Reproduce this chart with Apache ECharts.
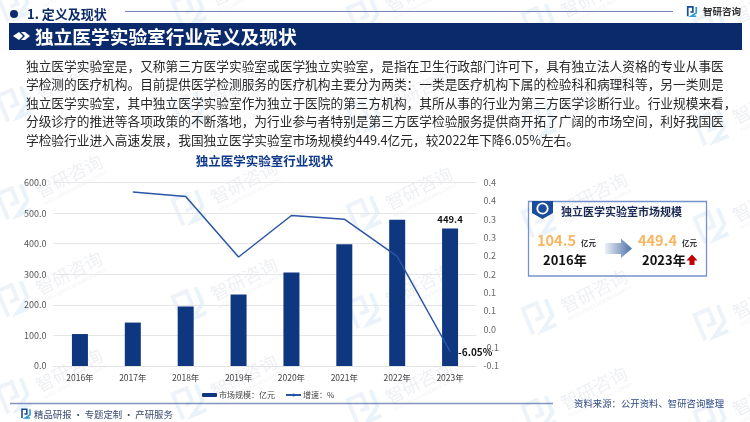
<!DOCTYPE html>
<html><head><meta charset="utf-8">
<style>html,body{margin:0;padding:0;background:#fff}#c{width:750px;height:422px}</style>
<script src="https://cdn.jsdelivr.net/npm/echarts@6/dist/echarts.min.js"></script>
</head><body><div id="c"></div>
<script>
var categories=['2016年','2017年','2018年','2019年','2020年','2021年','2022年','2023年'];
var marketSize=[104.5,142,194.5,234,305.5,398,478,449.4];
var growth=[null,0.374,0.362,0.197,0.310,0.300,0.199,-0.0605];
var rightTickLabels=['-0.1','-0.1','0.0','0.1','0.1','0.2','0.2','0.3','0.3','0.4','0.4'];
var seriesNames=['市场规模：亿元','增速：%'];
var paragraph=[
'独立医学实验室是，又称第三方医学实验室或医学独立实验室，是指在卫生行政部门许可下，具有独立法人资格的专业从事医',
'学检测的医疗机构。目前提供医学检测服务的医疗机构主要分为两类：一类是医疗机构下属的检验科和病理科等，另一类则是',
'独立医学实验室，其中独立医学实验室作为独立于医院的第三方机构，其所从事的行业为第三方医学诊断行业。行业规模来看，',
'分级诊疗的推进等各项政策的不断落地，为行业参与者特别是第三方医学检验服务提供商开拓了广阔的市场空间，利好我国医',
'学检验行业进入高速发展，我国独立医学实验室市场规模约449.4亿元，较2022年下降6.05%左右。'];
var FONT='"Noto Sans CJK SC","Noto Sans",sans-serif';
var NAVY='#0a2a6b',BAR='#0e3780',LINE='#2a55a5';
function T(x,y,t,size,color,bold,align,z){return {type:'text',z:z||5,style:{x:x,y:y,text:t,font:(bold?'bold ':'')+size+'px '+FONT,fill:color,textAlign:align||'left',textVerticalAlign:'middle'}};}
function logo(cx,cy,s,c1,c2,rot,lw,zl){
  var extra=zl?{zlevel:zl}:{z:5};
  return {type:'group',x:cx,y:cy,rotation:rot||0,scaleX:s,scaleY:s,children:[
    Object.assign({type:'polyline',shape:{points:[[-5,5],[-5,-6],[1,-6],[1,0],[-2,0]]},style:{fill:'none',stroke:c1,lineWidth:lw}},extra),
    Object.assign({type:'polyline',shape:{points:[[5,-6],[5,1],[-1,5],[5,5]]},style:{fill:'none',stroke:c2,lineWidth:lw}},extra)]};
}
var g=[];
// watermark, on a layer below the chart
var colX=[15,190,365,540,712],rowY=[5,105,203,300,397];
colX.forEach(function(x,i){rowY.forEach(function(y){
  var yy=y+i*6;
  g.push(logo(x,yy,2.5,'#edf3f8','#e9f3f9',0.4,1.6,-1));
  g.push({type:'text',zlevel:-1,x:x+54,y:yy-27,rotation:0.47,style:{x:0,y:0,text:'智研咨询',font:'18px '+FONT,fill:'#eff0f4',textAlign:'center',textVerticalAlign:'middle'}});
  g.push({type:'text',zlevel:-1,x:x+60,y:yy-15,rotation:0.47,style:{x:0,y:0,text:'INTELLIGENCE RESEARCH GROUP',font:'4.5px '+FONT,fill:'#f0f1f4',textAlign:'center',textVerticalAlign:'middle'}});
});});
// header
g.push({type:'circle',z:5,shape:{cx:14,cy:14,r:4},style:{fill:NAVY}});
g.push(T(27,14,'1. 定义及现状',13,NAVY,true));
g.push({type:'line',z:5,shape:{x1:125,y1:11.5,x2:673,y2:11.5},style:{stroke:'#7486b5',lineWidth:1}});
g.push(logo(692,12,0.85,'#1a4c9c','#2a9bd8',0,2));
g.push(T(703,11,'智研咨询',9.5,'#333',true));
g.push({type:'rect',z:5,shape:{x:9,y:23,width:733,height:27},style:{fill:NAVY}});
g.push({type:'polygon',z:6,shape:{points:[[13,36],[19,32],[23,36],[19,40]]},style:{fill:'#fff'}});
g.push({type:'polygon',z:6,shape:{points:[[21,32],[25,32],[30,36],[25,40],[21,40],[25,36]]},style:{fill:'#fff'}});
g.push(T(35,37,'独立医学实验室行业定义及现状',18.7,'#fff',true,'left',6));
// paragraph
var py=[65.7,84.3,103,121.6,140];
paragraph.forEach(function(s,i){g.push(T(26,py[i],s,12.7,'#262626',false));});
// chart title
g.push(T(264.5,161.5,'独立医学实验室行业现状',12.5,'#0f3a8a',true,'center'));
// card
g.push({type:'rect',z:5,shape:{x:528.5,y:201.5,width:178,height:74.5},style:{fill:'none',stroke:'#7393cc',lineWidth:1.3}});
g.push({type:'polygon',z:6,shape:{points:[[532,201],[553,201],[553,213],[542.5,219],[532,213]]},style:{fill:'#1a4c9c'}});
g.push({type:'circle',z:7,shape:{cx:542.5,cy:208.5,r:5.2},style:{fill:'none',stroke:'#fff',lineWidth:1.8}});
g.push(T(561,211.5,'独立医学实验室市场规模',11,'#1b2a52',true,'left',6));
g.push(T(537,240.5,'104.5',14.5,'#fbb560',true,'left',6));
g.push(T(581,243,'亿元',7.5,'#333',true,'left',6));
g.push({type:'polygon',z:6,shape:{points:[[605,243],[621,243],[621,238.5],[632,248.5],[621,258],[621,254],[605,254]]},
  style:{fill:new echarts.graphic.LinearGradient(0,0,1,0,[{offset:0,color:'rgba(74,111,168,0.1)'},{offset:1,color:'#4a6fa8'}])}});
g.push(T(638,240.5,'449.4',14.5,'#fbb560',true,'left',6));
g.push(T(682,243,'亿元',7.5,'#333',true,'left',6));
g.push(T(543,260,'2016年',13,'#111',true,'left',6));
g.push(T(642,260,'2023年',13,'#111',true,'left',6));
g.push({type:'polygon',z:6,shape:{points:[[692,254.5],[697.5,260.5],[694.5,260.5],[694.5,265],[689.5,265],[689.5,260.5],[686.5,260.5]]},style:{fill:'#c00000'}});
// footer
g.push({type:'line',z:5,shape:{x1:10,y1:403.5,x2:553,y2:403.5},style:{stroke:'#8295bf',lineWidth:1.5}});
g.push(logo(26,414,0.8,'#1a4c9c','#2a9bd8',0,2));
g.push(T(34,414.5,'精品研报\u2009·\u2009专题定制\u2009·\u2009产研服务',9.4,'#3a4a70',false));
g.push(T(574,403,'资料来源：公开资料、智研咨询整理',9.4,'#2f4a85',false));

var chart=echarts.init(document.getElementById('c'),null,{renderer:'canvas'});
chart.setOption({
  animation:false,
  textStyle:{fontFamily:FONT},
  grid:{left:53.5,right:273.5,top:182.5,bottom:56},
  legend:{left:202,top:391,padding:0,itemWidth:15,itemHeight:4,itemGap:10,textStyle:{fontSize:8,color:'#444',fontFamily:FONT,padding:[0,0,0,-3]},data:[seriesNames[0],seriesNames[1]]},
  xAxis:{type:'category',data:categories,axisTick:{show:false},axisLine:{lineStyle:{color:'#e3e3e3',width:1}},axisLabel:{fontSize:8.5,color:'#444',margin:8,interval:0}},
  yAxis:[
    {type:'value',min:0,max:600,interval:100,axisLine:{show:false},axisTick:{show:false},splitLine:{lineStyle:{color:'#e6e6e6',width:1}},
     axisLabel:{fontSize:9,color:'#555',margin:7,formatter:function(v){return v.toFixed(1);}}},
    {type:'value',min:-0.1,max:0.4,interval:0.05,axisLine:{show:false},axisTick:{show:false},splitLine:{show:false},
     axisLabel:{fontSize:9,color:'#666',margin:7,formatter:function(v,i){return rightTickLabels[i];}}}
  ],
  series:[
    {name:seriesNames[0],type:'bar',data:marketSize,barWidth:16,itemStyle:{color:BAR},
     label:{show:true,position:'top',distance:4,fontSize:9.5,fontWeight:'bold',color:'#111',formatter:function(p){return p.dataIndex===7?String(p.value):'';}}},
    {name:seriesNames[1],type:'line',yAxisIndex:1,data:growth,showSymbol:false,symbol:'none',lineStyle:{color:LINE,width:1.5},itemStyle:{color:LINE},
     endLabel:{show:true,distance:8,offset:[0,1],fontSize:10,fontWeight:'bold',color:'#111',formatter:function(){return '-6.05%';}}}
  ],
  graphic:{elements:g}
});
</script></body></html>
